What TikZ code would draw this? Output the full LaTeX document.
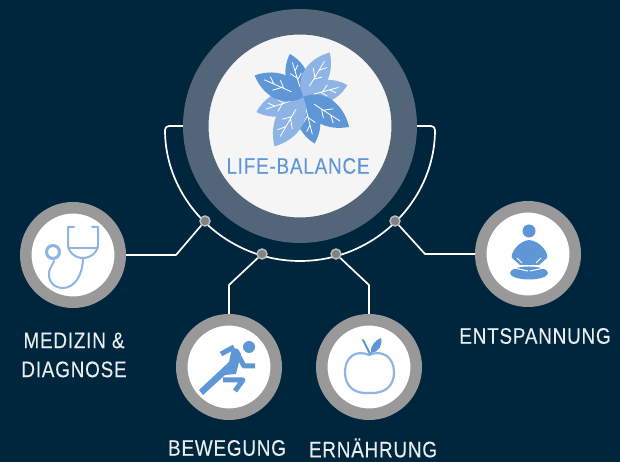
\documentclass[tikz,border=0pt]{standalone}
\usepackage{fontspec}
\setmainfont[FakeStretch=0.84,LetterSpace=3.5,FakeBold=0.1]{Liberation Sans}
\definecolor{navy}{HTML}{00263E}
\definecolor{ringblue}{HTML}{526579}
\definecolor{ringgrey}{HTML}{999999}
\definecolor{iconblue}{HTML}{5F96D6}
\definecolor{iconlight}{HTML}{8DB4E4}
\tikzset{hub/.style={circle,draw=ringblue,fill=white!96!black,line width=25.5pt,minimum size=208.5pt},
    topic/.style={circle,draw=ringgrey,fill=white,line width=11.5pt,minimum size=94.5pt},
    joint/.style={circle,draw=white!75!black,fill=ringgrey!85!black,line width=1.4pt,minimum size=10pt,inner sep=0pt},
    link/.style={draw=white,line width=1.7pt,line join=round},
    caption/.style={text=white!92!navy,font=\fontsize{22.5}{29}\selectfont,align=center},
    stroke/.style={draw=iconblue,line width=2pt,line cap=round,line join=round},
    thick stroke/.style={draw=iconblue,line width=5pt,line cap=butt,line join=round}}
\newcommand{\petal}[3]{%
    \begin{scope}[shift={(303,365)},rotate=#1,scale=#2]
    \fill[#3] (0,0) .. controls (10,15) and (32,17) .. (50,0) .. controls (32,-17) and (10,-15) .. (0,0);
    \draw[white,line width=.8pt] (12,0) -- (40,0) (22,0) -- (29,6) (30,0) -- (36,-5) (20,0) -- (26,-6);
    \end{scope}}
\begin{document}
\begin{tikzpicture}[x=1pt,y=1pt]
	\fill[navy] (0,0) rectangle (620,462);
	\useasboundingbox (0,0) rectangle (620,462);
	% main circles
	\node[hub] (balance) at (300,336) {};
	\node[topic] (medizin) at (73,207) {};
	\node[topic] (bewegung) at (229,95) {};
	\node[topic] (ernaehrung) at (369,95) {};
	\node[topic] (entspannung) at (528,208) {};
	% arc below the hub
	\coordinate (cornerL) at (165,336);
	\coordinate (cornerR) at (435,336);
	\draw[link,rounded corners=4pt] (balance.west) -- (cornerL) arc[start angle=180,end angle=360,radius=135] -- (balance.east);
	% bends
	\coordinate (bendM) at (176,207);
	\coordinate (bendB) at (229,177);
	\coordinate (bendE) at (369,177);
	\coordinate (bendS) at (425,208);
	\node[joint] (jointM) at (205,241) {};
	\node[joint] (jointB) at (262,208) {};
	\node[joint] (jointE) at (336,208) {};
	\node[joint] (jointS) at (395,241) {};
	\draw[link] (medizin.east) -- (bendM) -- (jointM);
	\draw[link] (bewegung.north) -- (bendB) -- (jointB);
	\draw[link] (ernaehrung.north) -- (bendE) -- (jointE);
	\draw[link] (entspannung.west) -- (bendS) -- (jointS);
	% flower
	\petal{107}{.9}{iconblue}
	\petal{59}{1.04}{iconlight}
	\petal{15}{.92}{iconlight}
	\petal{-33}{1.1}{iconblue}
	\petal{-76}{.96}{iconblue}
	\petal{-120}{1.14}{iconlight}
	\petal{-162}{.98}{iconlight}
	\petal{156}{1.06}{iconblue}
	% stethoscope
	\draw[stroke,iconlight] (74,235) -- (68,235) -- (68,218) .. controls (68,209) and (76,204) .. (83,204) .. controls (90,204) and (98,209) .. (98,218) -- (98,235) -- (92,235);
	\draw[stroke,iconlight] (68,214) -- (98,214);
	\draw[stroke,iconlight] (83,204) .. controls (83,188) and (75,174) .. (63,174) .. controls (50,174) and (47,186) .. (50,193) -- (54,201);
	\draw[stroke,iconlight,line width=3pt] (53,210) circle[radius=6.5];
	% runner
	\fill[iconblue] (249,115) circle[radius=6];
	\fill[iconblue] (199,72) -- (203,67) -- (225,87) -- (236,88) -- (241,108) -- (238,113) -- (232,114) -- (229,100) -- cycle;
	\draw[thick stroke] (234,115) -- (221,108);
	\draw[thick stroke] (238,107) -- (244,96) -- (255,96);
	\draw[thick stroke] (223,82) -- (243,82) -- (235,71);
	% apple
	\draw[stroke,iconlight,line width=2.2pt] (369,107) .. controls (355,113) and (345,104) .. (345,90) .. controls (345,75) and (355,68) .. (369,69) .. controls (384,68) and (394,75) .. (394,90) .. controls (394,104) and (383,113) .. (369,107);
	\draw[stroke] (363,122) -- (370,108);
	\fill[iconblue] (371,109) .. controls (370,117) and (376,122) .. (381,124) .. controls (383,117) and (379,110) .. (371,109);
	% meditation figure
	\fill[iconblue] (529,231) circle[radius=6.5];
	\fill[iconblue] (529,222) .. controls (518,221) and (510,208) .. (512,204) -- (520,197) -- (539,197) -- (547,204) .. controls (549,208) and (541,221) .. (529,222);
	\fill[iconblue] (529,189) ellipse[x radius=19,y radius=6.5];
	\draw[white,line width=1pt] (517,204) -- (522,199) (541,204) -- (536,199) (514,194) -- (528,191) (544,194) -- (530,191);
	% labels
	\node[text=iconblue,font=\fontsize{22.5}{26}\selectfont] (balancetext) at (298,296) {LIFE-BALANCE};
	\node[caption] (medizintext) at (74,107) {MEDIZIN \&\\DIAGNOSE};
	\node[caption] (bewegungtext) at (227,14) {BEWEGUNG};
	\node[caption] (ernaehrungtext) at (373,14) {ERNÄHRUNG};
	\node[caption] (entspannungtext) at (535,126) {ENTSPANNUNG};
\end{tikzpicture}
\end{document}
